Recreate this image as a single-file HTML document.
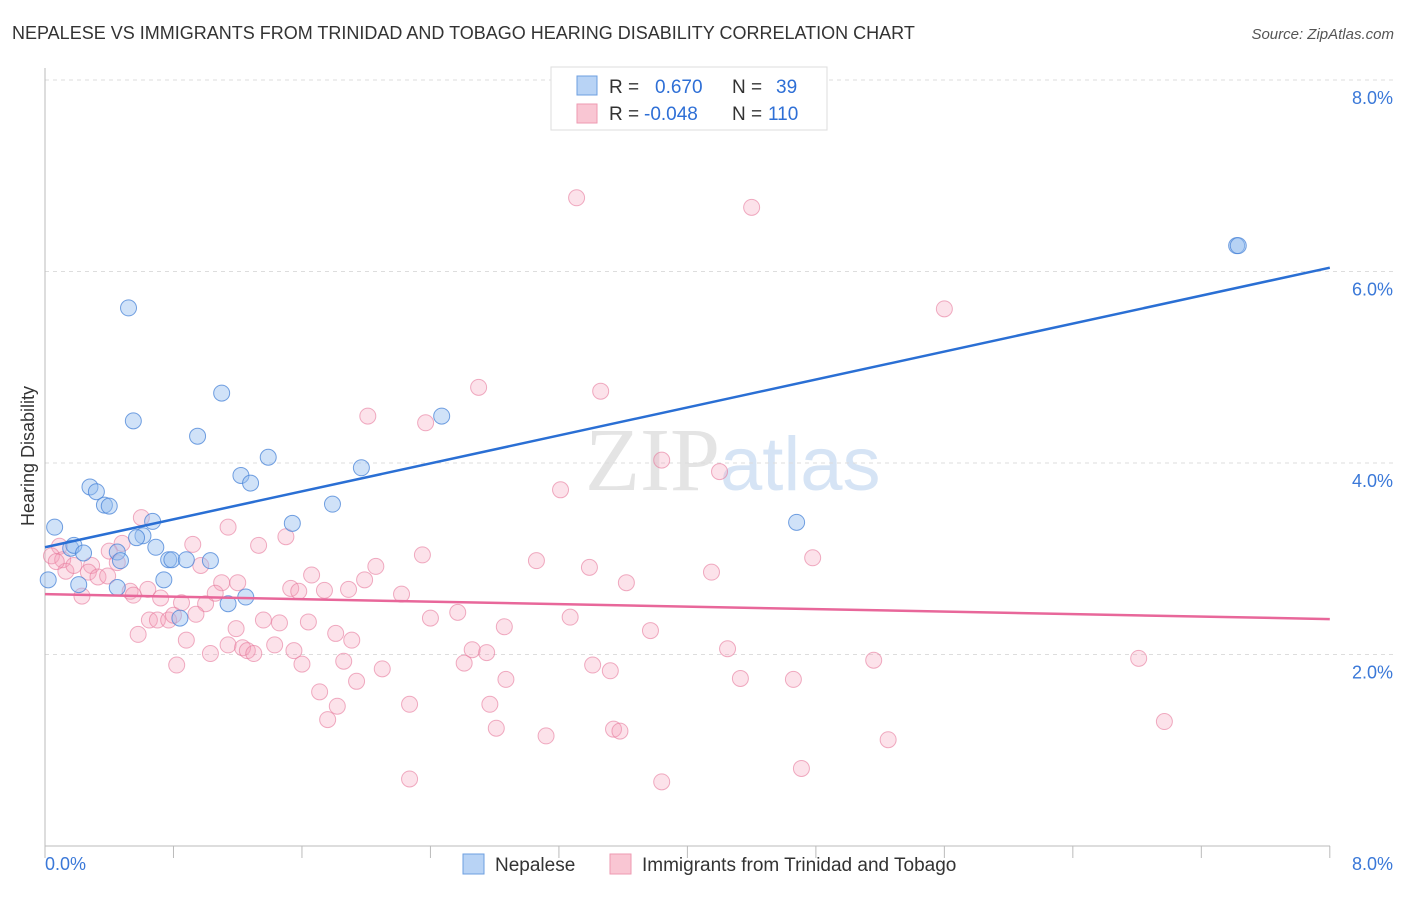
<!DOCTYPE html>
<html><head><meta charset="utf-8"><style>
body{margin:0;background:#fff;font-family:"Liberation Sans",sans-serif}
</style></head><body>
<svg width="1406" height="892" xmlns="http://www.w3.org/2000/svg" id="chart" font-family="Liberation Sans, sans-serif">
<text x="12" y="39" font-size="18" fill="#333">NEPALESE VS IMMIGRANTS FROM TRINIDAD AND TOBAGO HEARING DISABILITY CORRELATION CHART</text>
<text x="1394" y="39" font-size="15" fill="#555" font-style="italic" text-anchor="end">Source: ZipAtlas.com</text>
<text x="720" y="490" font-size="90" fill="#e4e4e4" text-anchor="end" font-family="Liberation Serif, serif">ZIP</text>
<text x="720" y="490" font-size="76" fill="#d6e4f5">atlas</text>
<g id="grid"></g><g id="axes"></g><g id="pts"></g><g id="lines"></g>
<text transform="translate(34,456) rotate(-90)" font-size="18" fill="#333" text-anchor="middle">Hearing Disability</text>
<g>
<rect x="551" y="67" width="276" height="63" fill="#fff" stroke="#ddd"/>
<rect x="577" y="76" width="20" height="19" fill="#b8d3f5" stroke="#6d9fe0"/>
<rect x="577" y="104" width="20" height="19" fill="#f9c6d3" stroke="#ee9ab2"/>
<text x="609" y="93" font-size="19" fill="#333">R = <tspan fill="#2e6fd6" x="655">0.670</tspan><tspan x="732">N = </tspan><tspan fill="#2e6fd6" x="776">39</tspan></text>
<text x="609" y="120" font-size="19" fill="#333">R = <tspan fill="#2e6fd6" x="644">-0.048</tspan><tspan x="732">N = </tspan><tspan fill="#2e6fd6" x="768">110</tspan></text>
</g>
<g>
<rect x="463" y="854" width="21" height="20" fill="#b8d3f5" stroke="#6d9fe0"/>
<text x="495" y="871" font-size="19" fill="#333">Nepalese</text>
<rect x="610" y="854" width="21" height="20" fill="#f9c6d3" stroke="#ee9ab2"/>
<text x="642" y="871" font-size="19" fill="#333">Immigrants from Trinidad and Tobago</text>
</g>
</svg>
<script>
const yTicks=[2,4,6,8];
const yTickLabels=["2.0%","4.0%","6.0%","8.0%"];
const xTickLabels=["0.0%","8.0%"];
const blueX=[0.52,0.55,0.95,1.10,1.22,1.28,1.39,0.28,0.32,0.37,0.40,0.06,0.67,0.61,0.57,0.16,0.18,0.24,0.45,0.47,0.69,0.77,0.79,0.88,1.03,0.74,0.02,0.21,0.45,0.84,1.14,1.25,1.54,1.79,1.97,2.47,4.68,7.42,7.43];
const blueY=[5.62,4.44,4.28,4.73,3.87,3.79,4.06,3.75,3.70,3.56,3.55,3.33,3.39,3.24,3.22,3.11,3.14,3.06,3.07,2.98,3.12,2.99,2.99,2.99,2.98,2.78,2.78,2.73,2.70,2.38,2.53,2.60,3.37,3.57,3.95,4.49,3.38,6.27,6.27];
const pinkX=[3.31,4.40,5.60,2.70,3.46,2.01,2.37,3.84,4.20,3.21,0.60,1.14,1.50,1.33,0.92,0.48,0.40,2.35,3.06,3.39,4.78,4.15,2.06,1.99,1.66,3.62,1.10,1.20,1.53,1.58,1.74,1.89,2.22,0.53,0.55,0.72,0.64,0.85,1.00,1.06,0.97,0.09,0.04,0.11,0.13,0.07,0.18,0.29,0.27,0.33,0.39,0.45,0.23,2.57,2.40,3.27,2.86,1.36,1.46,1.64,1.81,1.91,1.19,0.65,0.70,0.77,0.80,0.94,0.88,1.03,1.14,1.23,1.26,1.30,1.43,1.55,1.60,1.86,1.94,2.10,2.61,2.66,2.75,2.87,3.41,3.52,3.77,4.25,4.33,4.66,5.16,6.81,0.82,1.71,1.82,1.76,2.27,2.77,2.81,3.12,3.54,3.58,5.25,6.97,2.27,3.84,4.71,0.58];
const pinkY=[6.77,6.67,5.61,4.79,4.75,4.49,4.42,4.03,3.91,3.72,3.43,3.33,3.23,3.14,3.15,3.16,3.08,3.04,2.98,2.91,3.01,2.86,2.92,2.78,2.83,2.75,2.75,2.75,2.69,2.66,2.67,2.68,2.63,2.66,2.62,2.59,2.68,2.54,2.53,2.64,2.93,3.13,3.03,2.99,2.87,2.97,2.93,2.93,2.86,2.81,2.82,2.96,2.61,2.44,2.38,2.39,2.29,2.36,2.33,2.34,2.22,2.15,2.27,2.36,2.36,2.36,2.41,2.42,2.15,2.01,2.10,2.07,2.04,2.01,2.10,2.04,1.90,1.93,1.72,1.85,1.91,2.05,2.02,1.74,1.89,1.83,2.25,2.06,1.75,1.74,1.94,1.96,1.89,1.61,1.46,1.32,1.48,1.48,1.23,1.15,1.22,1.20,1.11,1.30,0.70,0.67,0.81,2.21];
const blueLine=[3.12,6.04];
const pinkLine=[2.63,2.37];
const NS="http://www.w3.org/2000/svg";
const X=v=>45+v*160.6, Y=v=>846-v*95.75;
function mk(t,a,p){const e=document.createElementNS(NS,t);for(const k in a)e.setAttribute(k,a[k]);document.getElementById(p).appendChild(e);return e;}
yTicks.forEach((t,i)=>{
 const g=mk('line',{x1:45,x2:1393,y1:Y(t),y2:Y(t),stroke:'#ddd','stroke-dasharray':'4,4'},'grid');
 
 
 const l=mk('text',{x:1393,y:Y(t)+24,'font-size':18,fill:'#3a78d8','text-anchor':'end'},'axes');
 l.textContent=yTickLabels[i];
 
 
});
const yl=mk('line',{x1:45,x2:45,y1:68,y2:846,stroke:'#bbb'},'axes');


const xl=mk('line',{x1:45,x2:1330,y1:846,y2:846,stroke:'#bbb'},'axes');


for(let i=0;i<=10;i++){
 const t=mk('line',{x1:X(i*0.8),x2:X(i*0.8),y1:846,y2:858,stroke:'#bbb'},'axes');
 
 
}
[[0,45,'start'],[8,1393,'end']].forEach((d,i)=>{
 const l=mk('text',{x:d[1],y:870,'font-size':18,fill:'#3a78d8','text-anchor':d[2]},'axes');
 l.textContent=xTickLabels[i];
 
 
});
pinkX.forEach((x,i)=>{
 const c=mk('circle',{cx:X(x),cy:Y(pinkY[i]),r:8,fill:'rgba(245,160,185,0.3)',stroke:'rgba(230,120,155,0.6)','stroke-width':1},'pts');
 
 
});
blueX.forEach((x,i)=>{
 const c=mk('circle',{cx:X(x),cy:Y(blueY[i]),r:8,fill:'rgba(150,190,240,0.45)',stroke:'rgba(70,130,215,0.75)','stroke-width':1},'pts');
 
 
});
const bl=mk('line',{x1:X(0),x2:X(8),y1:Y(blueLine[0]),y2:Y(blueLine[1]),stroke:'#2a6fd4','stroke-width':2.5},'lines');


const pl=mk('line',{x1:X(0),x2:X(8),y1:Y(pinkLine[0]),y2:Y(pinkLine[1]),stroke:'#e8679a','stroke-width':2.5},'lines');


</script>
</body></html>
